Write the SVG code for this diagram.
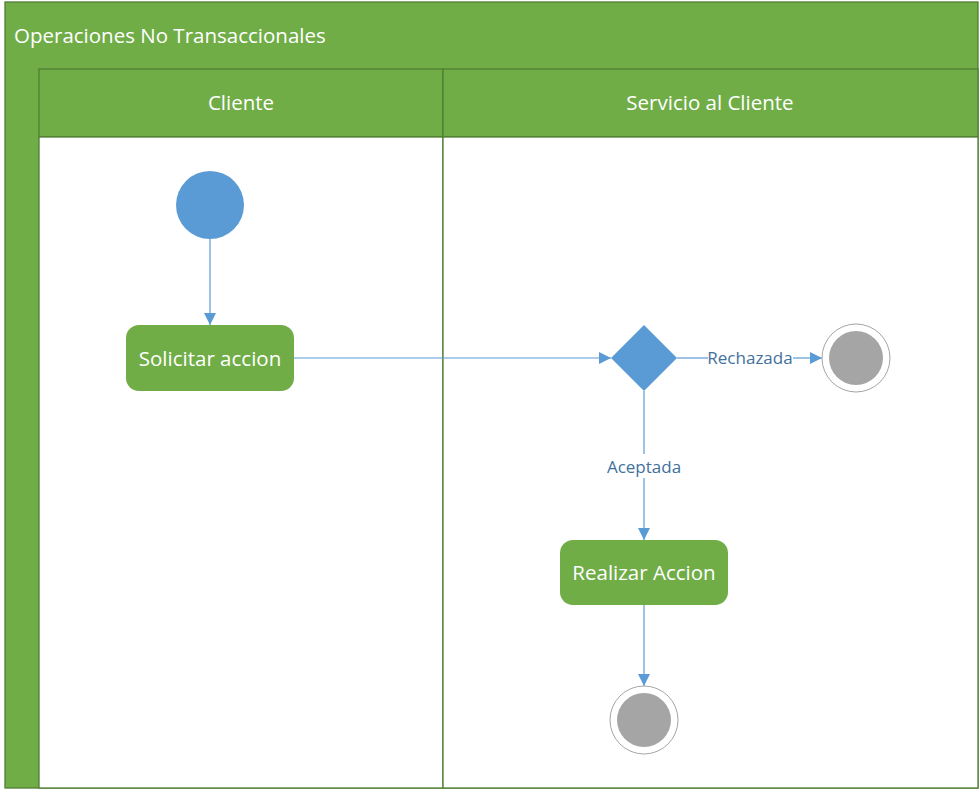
<svg xmlns="http://www.w3.org/2000/svg" width="980" height="790" viewBox="0 0 980 790">
<defs>
<style>
.band{fill:#70AD47;stroke:#507E32;stroke-width:1.3}
.lane{fill:#FFFFFF;stroke:#507E32;stroke-width:1.3}
.hdr{font-family:"Open Sans","Liberation Sans",sans-serif;font-size:20.5px;fill:#FFFFFF}
.act{fill:#70AD47}
.actt{font-family:"Open Sans","Liberation Sans",sans-serif;font-size:20.5px;fill:#FFFFFF;text-anchor:middle;dominant-baseline:central}
.edge{stroke:#5B9BD5;stroke-width:1.2;fill:none}
.lbl{font-family:"Open Sans","Liberation Sans",sans-serif;font-size:17px;fill:#41719C;text-anchor:middle;dominant-baseline:central}
.endo{fill:#FFFFFF;stroke:#A5A5A5;stroke-width:1}
.endi{fill:#A5A5A5}
</style>
<marker id="arr" markerWidth="12" markerHeight="12" refX="12" refY="6" orient="auto" markerUnits="userSpaceOnUse">
<path d="M0,0 L12,6 L0,12 Z" fill="#5B9BD5"/>
</marker>
</defs>
<g id="pool">
<rect class="band" x="5" y="2" width="973" height="786"/>
<text class="hdr" x="14" y="43">Operaciones No Transaccionales</text>
</g>
<g id="lane-cliente">
<rect class="band" x="39" y="69" width="404" height="68"/>
<rect class="lane" x="39" y="137" width="404" height="651"/>
<text class="hdr" x="241" y="110" text-anchor="middle">Cliente</text>
</g>
<g id="lane-servicio">
<rect class="band" x="443" y="69" width="535" height="68"/>
<rect class="lane" x="443" y="137" width="535" height="651"/>
<text class="hdr" x="710" y="110" text-anchor="middle">Servicio al Cliente</text>
</g>
<g id="connectors">
<line class="edge" x1="210" y1="239" x2="210" y2="325" marker-end="url(#arr)"/>
<line class="edge" x1="294" y1="358" x2="611" y2="358" marker-end="url(#arr)"/>
<line class="edge" x1="677" y1="358" x2="708" y2="358"/>
<line class="edge" x1="793" y1="358" x2="822" y2="358" marker-end="url(#arr)"/>
<line class="edge" x1="644" y1="391" x2="644" y2="454"/>
<line class="edge" x1="644" y1="478" x2="644" y2="540" marker-end="url(#arr)"/>
<line class="edge" x1="644" y1="605" x2="644" y2="686" marker-end="url(#arr)"/>
<text class="lbl" x="750" y="357">Rechazada</text>
<text class="lbl" x="644" y="466">Aceptada</text>
</g>
<g id="start">
<circle cx="210" cy="205" r="34" fill="#5B9BD5"/>
</g>
<g id="solicitar">
<rect class="act" x="126" y="325" width="168" height="66" rx="13"/>
<text class="actt" x="210" y="358">Solicitar accion</text>
</g>
<g id="decision">
<polygon points="644,325 677,358 644,391 611,358" fill="#5B9BD5"/>
</g>
<g id="end-rechazada">
<circle class="endo" cx="856" cy="358" r="34"/>
<circle class="endi" cx="856" cy="358" r="27"/>
</g>
<g id="realizar">
<rect class="act" x="560" y="540" width="168" height="65" rx="13"/>
<text class="actt" x="644" y="572">Realizar Accion</text>
</g>
<g id="end-aceptada">
<circle class="endo" cx="644" cy="720" r="34"/>
<circle class="endi" cx="644" cy="720" r="27"/>
</g>
</svg>
